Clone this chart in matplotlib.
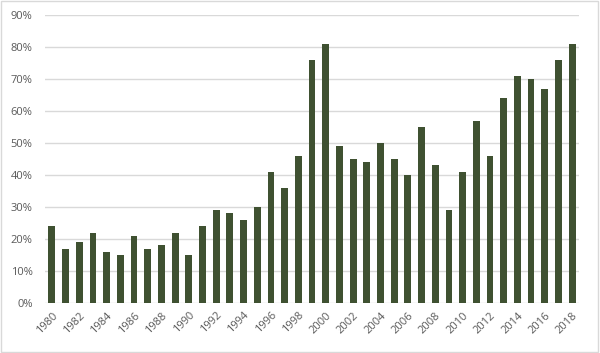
import matplotlib.pyplot as plt
from matplotlib.patches import Rectangle
from matplotlib.ticker import PercentFormatter

years = list(range(1980, 2019))
values = [24, 17, 19, 22, 16, 15, 21, 17, 18, 22,
          15, 24, 29, 28, 26, 30, 41, 36, 46, 76,
          81, 49, 45, 44, 50, 45, 40, 55, 43, 29,
          41, 57, 46, 64, 71, 70, 67, 76, 81]

plt.rcParams['font.family'] = ['Open Sans', 'DejaVu Sans']

fig = plt.figure(figsize=(6, 3.53), dpi=100)
ax = fig.add_axes([0.075, 0.1416, 0.89, 0.816])

x = range(len(years))
ax.bar(x, [v / 100 for v in values], width=0.5, color='#3f5131', zorder=3)

ax.set_ylim(0, 0.9)
ax.set_yticks([i / 10 for i in range(10)])
ax.yaxis.set_major_formatter(PercentFormatter(1.0, decimals=0))
ax.set_xlim(-0.5, len(years) - 0.5)
ax.set_xticks(list(x)[::2])
ax.set_xticklabels([str(y) for y in years[::2]], rotation=45, ha='right',
                   rotation_mode='anchor')

ax.grid(axis='y', color='#d9d9d9', linewidth=1, zorder=0)
for s in ax.spines.values():
    s.set_visible(False)
ax.tick_params(length=0, labelsize=8, labelcolor='#595959')
ax.tick_params(axis='x', pad=5)
ax.tick_params(axis='y', pad=9)

fig.patches.append(Rectangle((0.002, 0.003), 0.995, 0.993, transform=fig.transFigure,
                             fill=False, edgecolor='#d9d9d9', linewidth=1))

fig.savefig('out.png', dpi=100)
